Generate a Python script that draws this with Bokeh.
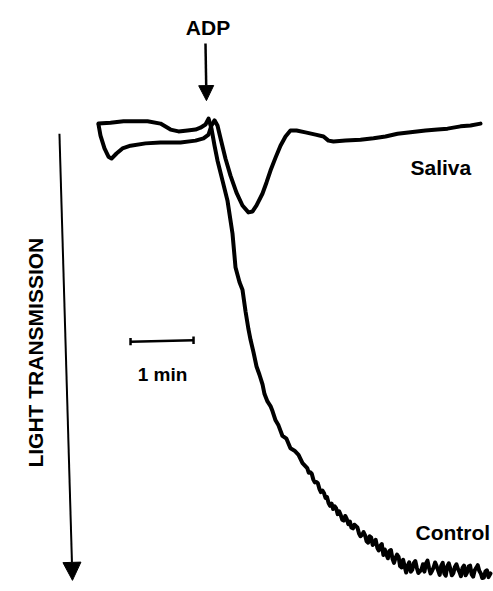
import math
from bokeh.plotting import figure
from bokeh.models import Range1d, Arrow, NormalHead
from bokeh.core.properties import value
from bokeh.embed import file_html
from bokeh.resources import INLINE

# Time in seconds relative to ADP addition; light transmission change in %
saliva_t = [-103.8, -101.9, -98.1, -94.3, -91.4, -86.7, -81.0, -73.3, -59.0, -44.8,
            -25.7, -11.4, -3.8, 1.0, 3.8, 6.7, 9.5, 12.4, 17.1, 21.9,
            27.6, 33.3, 39.0, 42.9, 46.7, 52.4, 56.2, 60.0, 64.8, 69.5,
            74.3, 79.0, 84.8, 93.3, 102.9, 110.5, 115.2, 120.0, 131.4, 145.7,
            158.1, 169.5, 181.0, 193.3, 207.6, 219.0, 228.6, 241.0, 250.5, 260.0]
saliva_T = [0.0, 2.4, 5.2, 7.0, 7.4, 6.3, 5.2, 4.6, 4.1, 3.9,
            3.9, 3.5, 3.0, 2.2, 0.2, -0.9, 0.2, 3.0, 7.4, 11.1,
            14.8, 17.6, 19.1, 18.9, 17.6, 15.0, 12.6, 10.0, 7.2, 4.6,
            2.6, 1.3, 1.3, 1.7, 2.2, 2.6, 3.5, 3.7, 3.5, 3.3,
            3.0, 2.6, 2.0, 1.7, 1.3, 1.1, 0.9, 0.4, 0.2, -0.2]

# Control: before ADP and the fast phase
control_early_t = [-103.8, -92.4, -80.0, -57.1, -44.8, -35.2, -27.6, -19.0, -11.4, -6.7,
                   -1.9, 1.0, 3.8, 6.7, 9.5, 14.3, 19.0, 23.8, 26.7, 30.5,
                   33.3, 36.2, 39.0, 41.0, 43.8, 46.7, 49.5, 52.4, 54.3, 57.1,
                   60.0, 61.9, 64.8, 67.6, 71.4, 75.2, 79.0, 82.9, 86.7, 90.5]
control_early_T = [-0.2, -0.4, -0.7, -0.7, -0.2, 1.1, 1.5, 1.3, 1.1, 0.7,
                   0.0, -1.3, 0.9, 4.6, 7.8, 12.2, 16.5, 23.7, 31.1, 34.3,
                   35.9, 40.6, 44.5, 46.8, 49.5, 52.6, 54.4, 56.5, 58.6, 60.2,
                   61.2, 62.3, 64.3, 65.4, 67.7, 68.3, 70.4, 70.9, 71.8, 73.6]
# Control: noisy middle phase
control_mid_t = [95.0, 96.4, 97.9, 99.3, 100.8, 102.2, 103.7, 105.1, 106.6, 108.0,
                 109.5, 110.9, 112.4, 113.8, 115.3, 116.7, 118.2, 119.6, 121.1, 122.5,
                 124.0, 125.4, 126.9, 128.3, 129.8, 131.2, 132.7, 134.1, 135.6, 137.0,
                 138.5, 139.9, 141.4, 142.8, 144.3, 145.7, 147.2, 148.6]
control_mid_T = [74.7, 75.7, 75.6, 75.9, 77.2, 77.8, 77.7, 78.0, 79.2, 79.9,
                 79.6, 80.1, 81.2, 81.0, 82.3, 82.9, 82.4, 83.6, 83.0, 83.4,
                 84.7, 84.1, 84.9, 85.9, 86.1, 85.1, 85.8, 86.9, 86.3, 87.6,
                 87.8, 87.0, 87.3, 87.6, 88.9, 89.5, 89.2, 88.6]
# Control: noisy plateau
control_late_t = [150.1, 151.5, 153.0, 154.4, 155.9, 157.3, 158.8, 160.2, 161.7, 163.1,
                  164.6, 166.0, 167.5, 168.9, 170.4, 171.8, 173.3, 174.7, 176.2, 177.6,
                  179.1, 180.5, 182.0, 183.4, 184.9, 186.3, 187.8, 189.2, 190.7, 192.1,
                  193.6, 195.0, 196.5, 197.9, 199.4, 200.8, 202.3, 203.7, 205.2, 206.6,
                  208.1, 209.5, 211.0, 212.4, 213.9, 215.3, 216.8, 218.2, 219.7, 221.1,
                  222.6, 224.0, 225.5, 226.9, 228.4, 229.8, 231.3, 232.7, 234.2, 235.6,
                  237.1, 238.5, 240.0, 241.4, 242.9, 244.3, 245.8, 247.2, 248.7, 250.1,
                  251.6, 253.0, 254.5, 255.9, 257.4, 258.8, 260.3, 261.7, 263.2, 264.6,
                  266.1, 267.6, 269.5]
control_late_T = [89.3, 90.6, 90.9, 89.5, 89.8, 91.4, 91.0, 90.3, 92.0, 92.6,
                  91.6, 91.2, 93.6, 92.4, 93.5, 94.3, 92.7, 92.5, 94.4, 95.3,
                  94.2, 93.5, 94.0, 96.0, 96.3, 94.6, 96.1, 97.4, 95.9, 95.2,
                  97.2, 96.8, 95.3, 94.9, 96.4, 97.5, 97.1, 96.8, 95.6, 97.2,
                  95.4, 94.8, 96.4, 97.6, 97.0, 96.3, 95.2, 96.0, 97.0, 97.9,
                  95.9, 95.3, 97.6, 98.1, 96.0, 95.4, 96.6, 98.0, 97.5, 96.2,
                  95.6, 96.6, 97.3, 98.2, 96.4, 95.9, 98.0, 97.4, 96.1, 95.9,
                  97.8, 98.3, 96.9, 96.4, 95.8, 97.0, 97.6, 98.6, 98.5, 97.2,
                  96.9, 98.4, 97.6]

control_t = control_early_t + control_mid_t + control_late_t
control_T = control_early_T + control_mid_T + control_late_T

labels = ["ADP", "Saliva", "Control", "1 min", "LIGHT TRANSMISSION"]
scale_bar_seconds = 60

FONT = "Liberation Sans"

p = figure(width=493, height=591,
           x_range=Range1d(-197.14, 272.38), y_range=Range1d(101.52, -26.96),
           output_backend="svg", toolbar_location=None,
           x_axis_location=None, y_axis_location=None,
           min_border=0, outline_line_color=None,
           background_fill_color="white", border_fill_color="white")
p.grid.visible = False

p.line(saliva_t, saliva_T, line_color="black", line_width=4,
       line_join="round", line_cap="round")
p.line(control_t, control_T, line_color="black", line_width=4,
       line_join="round", line_cap="round")

# ADP arrow
p.add_layout(Arrow(end=NormalHead(size=15, fill_color="black", line_color="black"),
                   x_start=-1.9, y_start=-17.6, x_end=-1.0, y_end=-5.2,
                   line_width=2.5, line_color="black"))
# Light transmission arrow
p.add_layout(Arrow(end=NormalHead(size=18, fill_color="black", line_color="black"),
                   x_start=-141.0, y_start=2.0, x_end=-128.6, y_end=99.1,
                   line_width=2, line_color="black"))

# Scale bar (1 min)
bar_x0 = -73.3
bar_y = 47.2
p.segment(x0=[bar_x0], y0=[bar_y], x1=[bar_x0 + scale_bar_seconds], y1=[bar_y - 0.3],
          line_color="black", line_width=2.5)
p.segment(x0=[bar_x0, bar_x0 + scale_bar_seconds], y0=[bar_y - 0.8, bar_y - 1.1],
          x1=[bar_x0, bar_x0 + scale_bar_seconds], y1=[bar_y + 0.8, bar_y + 0.5],
          line_color="black", line_width=2.5)

common = dict(text_font=value(FONT), text_font_style="bold", text_color="black")
p.text(x=[0.5], y=[-21.1], text=[labels[0]], text_align="center",
       text_baseline="alphabetic", text_font_size="21px", **common)
p.text(x=[193.3], y=[9.3], text=[labels[1]], text_align="left",
       text_baseline="alphabetic", text_font_size="21px", **common)
p.text(x=[198.1], y=[88.7], text=[labels[2]], text_align="left",
       text_baseline="alphabetic", text_font_size="21px", **common)
p.text(x=[-42.9], y=[54.3], text=[labels[3]], text_align="center",
       text_baseline="alphabetic", text_font_size="19px", **common)
p.text(x=[-163.8], y=[49.6], text=[labels[4]], text_align="center",
       text_baseline="middle", angle=math.pi / 2, text_font_size="21px", **common)

open("out.html", "w").write(file_html(p, INLINE))
